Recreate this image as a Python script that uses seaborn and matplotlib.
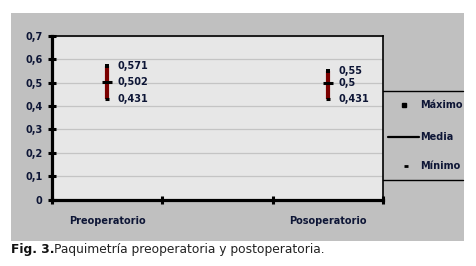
import matplotlib
matplotlib.use("Agg")
import matplotlib.pyplot as plt
import seaborn as sns
import pandas as pd
from matplotlib.lines import Line2D
from matplotlib.patches import Rectangle

# ---- data ----
categories = ["Preoperatorio", "", "Posoperatorio"]
groups = ["Preoperatorio", "Posoperatorio"]
maximo = [0.571, 0.55]
media = [0.502, 0.5]
minimo = [0.431, 0.431]
max_labels = ["0,571", "0,55"]
mean_labels = ["0,502", "0,5"]
min_labels = ["0,431", "0,431"]
yticks = [0, 0.1, 0.2, 0.3, 0.4, 0.5, 0.6, 0.7]
ytick_labels = ["0", "0,1", "0,2", "0,3", "0,4", "0,5", "0,6", "0,7"]
legend_labels = ["Máximo", "Media", "Mínimo"]

pos = [categories.index(g) for g in groups]
df = pd.DataFrame({"x": pos, "max": maximo, "mean": media, "min": minimo})

sns.set_style("white")
plt.rcParams['font.family'] = ['DejaVu Sans']

W, H = 477, 266
fig = plt.figure(figsize=(W / 100, H / 100), dpi=100)
fig.patch.set_facecolor("white")

# outer gray frame
fig.add_artist(Rectangle((11 / W, 1 - 241 / H), (464 - 11) / W, (241 - 13) / H,
                         transform=fig.transFigure, facecolor="#c0c0c0",
                         edgecolor="none", zorder=0))

ax = fig.add_axes([52 / W, 1 - 199.5 / H, (383 - 52) / W, (199.5 - 36) / H])
ax.set_facecolor("#e7e7e7")
ax.set_zorder(2)

# high-low lines
ax.vlines(df["x"], df["min"], df["max"], color="#7a0000", lw=3, zorder=3)
# markers
sns.scatterplot(data=df, x="x", y="max", marker="s", s=8, color="black",
                edgecolor="black", linewidth=0, ax=ax, zorder=4, legend=False)
sns.scatterplot(data=df, x="x", y="mean", marker="_", s=50, color="black",
                linewidth=2.2, ax=ax, zorder=4, legend=False)
sns.scatterplot(data=df, x="x", y="min", marker="_", s=12, color="black",
                linewidth=2.2, ax=ax, zorder=4, legend=False)

lab_color = "#0e1636"
for i, x in enumerate(df["x"]):
    off = 7.5 if i == 0 else 8
    for val, txt in ((maximo[i], max_labels[i]), (media[i], mean_labels[i]),
                     (minimo[i], min_labels[i])):
        ax.annotate(txt, (x, val), xytext=(off, 0), textcoords="offset points",
                    va="center", ha="left", fontsize=7, fontweight="bold",
                    color=lab_color, zorder=5)

ax.set_xlim(-0.5, 2.5)
ax.set_ylim(0, 0.7)
ax.set_yticks(yticks)
ax.set_yticklabels(ytick_labels)
ax.set_xticks([-0.5, 0.5, 1.5, 2.5])
ax.set_xticklabels([])
ax.set_xticks([0, 1, 2], minor=True)
ax.set_xticklabels(categories, minor=True)
ax.tick_params(axis="x", which="minor", bottom=False, length=0,
               labelsize=7, labelcolor=lab_color)
ax.tick_params(axis="both", which="major", bottom=True, left=True,
               direction="inout", length=6, width=2.2, color="black",
               labelsize=7, labelcolor=lab_color)
for lbl in ax.get_yticklabels() + ax.get_xticklabels(minor=True):
    lbl.set_fontweight("bold")
ax.tick_params(axis="y", pad=4)
ax.tick_params(axis="x", which="minor", pad=12)

ax.grid(axis="y", color="#c4c4c4", lw=0.9)
ax.set_axisbelow(True)
ax.set_xlabel("")
ax.set_ylabel("")
for s in ("left", "bottom"):
    ax.spines[s].set_linewidth(2.3)
    ax.spines[s].set_color("black")
for s in ("top", "right"):
    ax.spines[s].set_linewidth(1.2)
    ax.spines[s].set_color("black")

# legend box (manual)
fy = lambda y: 1 - y / H
fx = lambda x: x / W
for yy in (91, 180):
    fig.add_artist(Line2D([fx(383), fx(463)], [fy(yy), fy(yy)], color="black",
                          lw=1, transform=fig.transFigure, zorder=3))
fig.add_artist(Line2D([fx(404)], [fy(105)], marker="s", ms=2.2, color="black",
                      lw=0, transform=fig.transFigure, zorder=3))
fig.add_artist(Line2D([fx(388), fx(419)], [fy(137), fy(137)], color="black",
                      lw=1.6, transform=fig.transFigure, zorder=3))
fig.add_artist(Line2D([fx(406)], [fy(166)], marker="_", ms=3, mew=2,
                      color="black", lw=0, transform=fig.transFigure, zorder=3))
for yy, t in zip((105, 137, 166), legend_labels):
    fig.text(fx(420), fy(yy), t, fontsize=7, fontweight="bold", color=lab_color,
             va="center", ha="left", zorder=3)

# caption
r = fig.canvas.get_renderer()
t1 = fig.text(fx(11), fy(249), "Fig. 3.", fontsize=8.8, fontweight="bold",
              color="#111111", va="center", ha="left")
bb = t1.get_window_extent(renderer=r)
fig.text(bb.x1 / (W), fy(249), "Paquimetría preoperatoria y postoperatoria.",
         fontsize=8.8, color="#222222", va="center", ha="left")

fig.savefig("out.png", dpi=100)
